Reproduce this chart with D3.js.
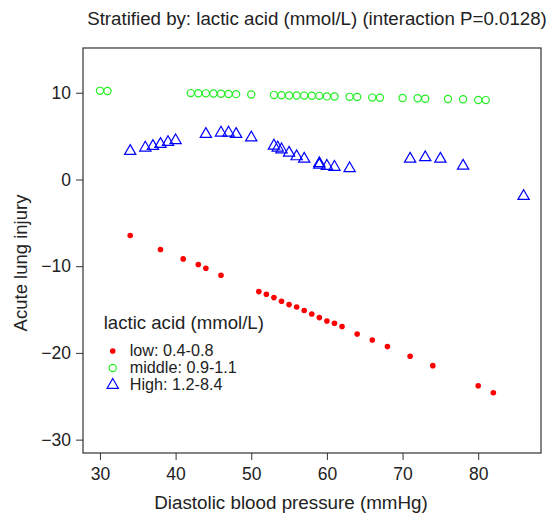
<!DOCTYPE html>
<html>
<head>
<meta charset="utf-8">
<script src="https://cdn.jsdelivr.net/npm/d3@7"></script>
<style>
  body { margin: 0; background: #fff; }
  svg text { font-family: "Liberation Sans", Arial, Helvetica, sans-serif; fill: #222; }
</style>
</head>
<body>
<div id="wrapper"></div>
<script>
// values
const lowX = [34, 38, 41, 43, 44, 46, 51, 52, 53, 54, 55, 56, 57, 58, 59, 60, 61, 62, 64, 66, 68, 71, 74, 80, 82]
const lowY = [-6.46, -8.08, -9.16, -9.81, -10.24, -11.05, -12.93, -13.24, -13.62, -14.05, -14.43, -14.70, -15.10, -15.51, -15.93, -16.32, -16.58, -16.96, -17.81, -18.51, -19.27, -20.39, -21.47, -23.78, -24.59]

const midX = [30, 31, 42, 43, 44, 45, 46, 47, 48, 50, 53, 54, 55, 56, 57, 58, 59, 60, 61, 63, 64, 66, 67, 70, 72, 73, 76, 78, 80, 81]
const midY = [10.22, 10.2, 9.96, 9.95, 9.93, 9.91, 9.88, 9.86, 9.84, 9.8, 9.73, 9.71, 9.69, 9.68, 9.67, 9.66, 9.64, 9.58, 9.56, 9.53, 9.51, 9.44, 9.42, 9.4, 9.37, 9.31, 9.28, 9.25, 9.17, 9.15]

const highX = [34, 36, 37, 38, 39, 40, 44, 46, 47, 48, 50, 53, 53.5, 54, 55, 56, 57, 59, 59, 60, 61, 63, 71, 73, 75, 78, 86]
const highY = [3.27, 3.65, 3.84, 4.08, 4.3, 4.5, 5.23, 5.38, 5.38, 5.23, 4.82, 3.88, 3.65, 3.45, 3.07, 2.65, 2.38, 1.85, 1.68, 1.55, 1.43, 1.27, 2.38, 2.54, 2.38, 1.57, -1.93]

const xTicks = [30, 40, 50, 60, 70, 80]
const yTicks = [10, 0, -10, -20, -30]
const groupNames = ["low: 0.4-0.8", "middle: 0.9-1.1", "High: 1.2-8.4"]

const toPoints = (xs, ys) => xs.map((x, i) => ({ x: x, y: ys[i] }))
const lowData = toPoints(lowX, lowY)
const midData = toPoints(midX, midY)
const highData = toPoints(highX, highY)

const dimensions = {
    width: 551,
    height: 513,
    margin: { top: 48, right: 10, bottom: 60, left: 83 },
}
dimensions.boundedWidth = dimensions.width - dimensions.margin.left - dimensions.margin.right
dimensions.boundedHeight = dimensions.height - dimensions.margin.top - dimensions.margin.bottom

const svg = d3.select("#wrapper")
    .append("svg")
    .attr("width", dimensions.width)
    .attr("height", dimensions.height)

const bounds = svg.append("g")
    .attr("transform", `translate(${dimensions.margin.left},${dimensions.margin.top})`)

// plot region extends a bit past the data like R's default
const xScale = d3.scaleLinear()
    .domain([27.76, 88.3])
    .range([0, dimensions.boundedWidth])

const yScale = d3.scaleLinear()
    .domain([-31.54, 15.16])
    .range([dimensions.boundedHeight, 0])

// axes
const xAxis = bounds.append("g")
    .attr("transform", `translate(0,${dimensions.boundedHeight})`)
    .call(d3.axisBottom(xScale).tickValues(xTicks).tickSize(7).tickPadding(8))
const yAxis = bounds.append("g")
    .call(d3.axisLeft(yScale).tickValues(yTicks).tickSize(7).tickPadding(5))

for (const ax of [xAxis, yAxis]) {
    ax.select(".domain").remove()
    ax.selectAll(".tick line").attr("stroke", "#333")
    ax.selectAll(".tick text")
        .style("font-size", "17.5px")
        .style("font-family", "'Liberation Sans', Arial, sans-serif")
        .attr("fill", "#222")
}

// box
bounds.append("rect")
    .attr("width", dimensions.boundedWidth)
    .attr("height", dimensions.boundedHeight)
    .attr("fill", "none")
    .attr("stroke", "#333")
    .attr("stroke-width", 1.2)

// low: small filled red dots
bounds.selectAll(".low")
    .data(lowData)
    .join("circle")
    .attr("class", "low")
    .attr("cx", d => xScale(d.x))
    .attr("cy", d => yScale(d.y))
    .attr("r", 2.8)
    .attr("fill", "#ff0000")

// middle: open green circles
bounds.selectAll(".mid")
    .data(midData)
    .join("circle")
    .attr("class", "mid")
    .attr("cx", d => xScale(d.x))
    .attr("cy", d => yScale(d.y))
    .attr("r", 3.6)
    .attr("fill", "none")
    .attr("stroke", "#22ee22")
    .attr("stroke-width", 1.2)

// high: open blue triangles
const triangle = d3.symbol().type(d3.symbolTriangle).size(55)
bounds.selectAll(".high")
    .data(highData)
    .join("path")
    .attr("class", "high")
    .attr("transform", d => `translate(${xScale(d.x)},${yScale(d.y)})`)
    .attr("d", triangle)
    .attr("fill", "none")
    .attr("stroke", "#0000ff")
    .attr("stroke-width", 1.2)

// legend
const legend = bounds.append("g")
    .attr("transform", `translate(${xScale(30.5)},${yScale(-17.25)})`)
legend.append("text")
    .attr("x", 0)
    .attr("y", 0)
    .style("font-size", "18.6px")
    .text("lactic acid (mmol/L)")

const rowY = i => 27 + i * 17
legend.append("circle")
    .attr("cx", 9).attr("cy", rowY(0) - 5)
    .attr("r", 2.8).attr("fill", "#ff0000")
legend.append("circle")
    .attr("cx", 9).attr("cy", rowY(1) - 5)
    .attr("r", 3.6).attr("fill", "none").attr("stroke", "#22ee22").attr("stroke-width", 1.2)
legend.append("path")
    .attr("transform", `translate(9,${rowY(2) - 5})`)
    .attr("d", triangle)
    .attr("fill", "none").attr("stroke", "#0000ff").attr("stroke-width", 1.2)

legend.selectAll(".entry")
    .data(groupNames)
    .join("text")
    .attr("class", "entry")
    .attr("x", 26)
    .attr("y", (d, i) => rowY(i))
    .style("font-size", "16.2px")
    .text(d => d)

// titles
svg.append("text")
    .attr("x", 317)
    .attr("y", 25)
    .attr("text-anchor", "middle")
    .style("font-size", "18.7px")
    .text("Stratified by: lactic acid (mmol/L) (interaction P=0.0128)")

svg.append("text")
    .attr("x", 291)
    .attr("y", 509)
    .attr("text-anchor", "middle")
    .style("font-size", "18.8px")
    .text("Diastolic blood pressure (mmHg)")

svg.append("text")
    .attr("transform", `translate(27,263) rotate(-90)`)
    .attr("text-anchor", "middle")
    .style("font-size", "18.5px")
    .text("Acute lung injury")
</script>
</body>
</html>
